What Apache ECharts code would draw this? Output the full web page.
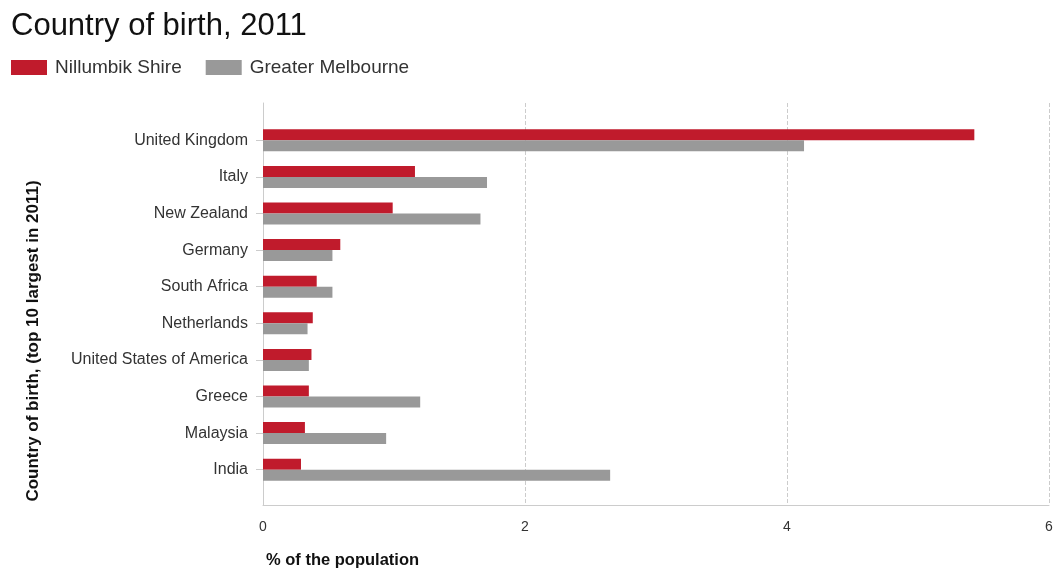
<!DOCTYPE html>
<html>
<head>
<meta charset="utf-8">
<script src="https://cdn.jsdelivr.net/npm/echarts@6/dist/echarts.min.js"></script>
<style>html,body{margin:0;padding:0;background:#fff}#c{width:1058px;height:570px}</style>
</head>
<body>
<div id="c"></div>
<script>
var categories = ['United Kingdom','Italy','New Zealand','Germany','South Africa','Netherlands','United States of America','Greece','Malaysia','India'];
var nillumbik = [5.43,1.16,0.99,0.59,0.41,0.38,0.37,0.35,0.32,0.29];
var melbourne = [4.13,1.71,1.66,0.53,0.53,0.34,0.35,1.20,0.94,2.65];
var xTicks = {min:0, max:6, interval:2};
var FONT = "'Liberation Sans', Arial, sans-serif";

var chart = echarts.init(document.getElementById('c'));
chart.setOption({
  animation:false,
  textStyle:{fontFamily:FONT},
  title:{text:'Country of birth, 2011', left:11, top:11, padding:0, textStyle:{fontSize:31, fontWeight:'normal', color:'#111', fontFamily:FONT}},
  legend:{left:11, top:58, padding:0, itemWidth:36, itemHeight:15, itemGap:24, icon:'rect',
    textStyle:{fontSize:19, color:'#333', fontFamily:FONT, padding:[0,0,0,3]},
    data:['Nillumbik Shire','Greater Melbourne']},
  grid:[
    {left:263, right:9, top:122, height:366},
    {left:263, right:9, top:103, bottom:65}
  ],
  xAxis:[
    {gridIndex:0, type:'value', min:xTicks.min, max:xTicks.max, interval:xTicks.interval, show:false},
    {gridIndex:1, type:'value', min:xTicks.min, max:xTicks.max, interval:xTicks.interval,
      axisLine:{show:true, lineStyle:{color:'#ccc'}},
      axisTick:{show:false},
      axisLabel:{fontSize:14, color:'#333', margin:15, fontFamily:FONT},
      splitLine:{show:true, lineStyle:{color:'#ccc', type:'dashed'}}}
  ],
  yAxis:[
    {gridIndex:0, type:'category', data:categories, inverse:true,
      axisLine:{show:false},
      axisTick:{show:true, alignWithLabel:true, length:7, lineStyle:{color:'#ccc'}},
      axisLabel:{fontSize:16, color:'#333', margin:15, fontFamily:FONT}},
    {gridIndex:1, type:'value', min:0, max:1,
      axisLine:{show:true, lineStyle:{color:'#ccc'}},
      axisTick:{show:false}, axisLabel:{show:false}, splitLine:{show:false}}
  ],
  series:[
    {name:'Nillumbik Shire', type:'bar', xAxisIndex:0, yAxisIndex:0, data:nillumbik,
      barWidth:11, barGap:'0%', itemStyle:{color:'#C01B2C'}},
    {name:'Greater Melbourne', type:'bar', xAxisIndex:0, yAxisIndex:0, data:melbourne,
      barWidth:11, barGap:'0%', itemStyle:{color:'#999999'}}
  ],
  graphic:[
    {type:'text', x:33, y:341, rotation:Math.PI/2,
      style:{text:'Country of birth, (top 10 largest in 2011)', font:'bold 17px '+FONT, fill:'#111', textAlign:'center', textVerticalAlign:'middle'}},
    {type:'text', x:266, y:560,
      style:{text:'% of the population', font:'bold 16.5px '+FONT, fill:'#111', textAlign:'left', textVerticalAlign:'middle'}}
  ]
});
</script>
</body>
</html>
